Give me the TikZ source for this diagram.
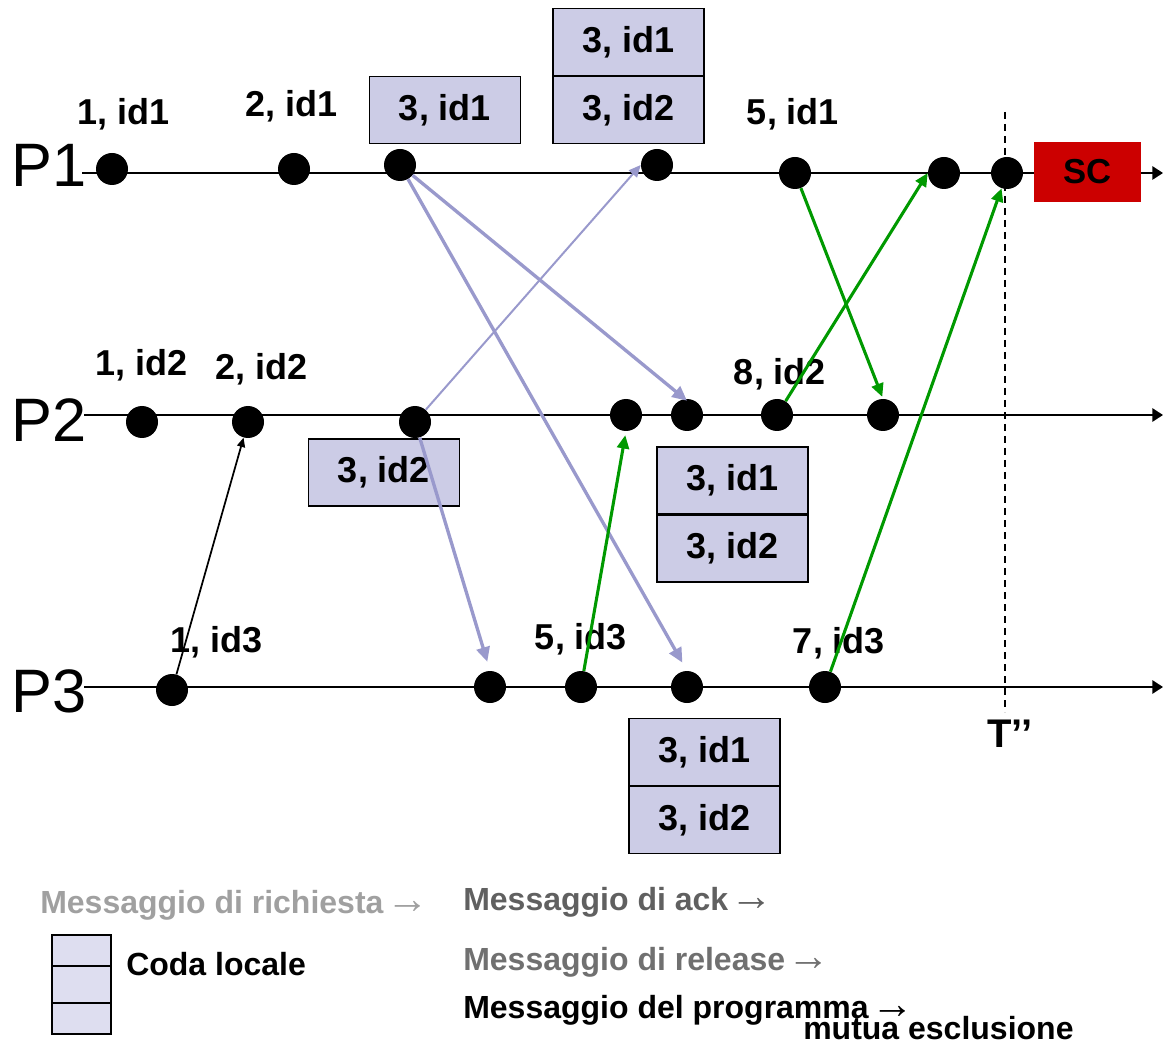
\documentclass[tikz,border=0pt]{standalone}
\usepackage{fontspec}
\setmainfont{Liberation Sans}
\usetikzlibrary{arrows.meta}
\definecolor{qfill}{RGB}{204,204,230}
\definecolor{legfill}{RGB}{222,222,240}
\definecolor{reqc}{RGB}{153,153,204}
\definecolor{ackg}{RGB}{0,153,0}
\definecolor{scred}{RGB}{204,0,0}
\definecolor{grayA}{RGB}{160,160,160}
\definecolor{grayB}{RGB}{96,96,96}
\definecolor{grayC}{RGB}{112,112,112}
\newcommand{\legarrow}{\hspace{2pt}{\fontsize{32}{32}\selectfont →}}
\begin{document}
\begin{tikzpicture}[x=0.75pt,y=-0.75pt,
 dot/.style={circle,fill=black,inner sep=0pt,minimum size=24pt},
 lbl/.style={font=\bfseries\fontsize{27}{30}\selectfont,inner sep=0pt,anchor=base},
 qbox/.style={draw=black,line width=1.2pt,fill=qfill,minimum width=113pt,minimum height=50pt,inner sep=0pt,font=\bfseries\fontsize{27}{30}\selectfont},
 proc/.style={line width=1.4pt,-{Triangle[length=8pt,width=10pt]}},
 req/.style={draw=reqc,line width=2.5pt,-{Triangle[length=11pt,width=10pt]}},
 reqthin/.style={draw=reqc,line width=1.5pt,-{Triangle[length=9pt,width=8pt]}},
 ackarrow/.style={draw=ackg,line width=2.3pt,-{Triangle[length=10pt,width=9pt]}},
 prog/.style={draw=black,line width=1.3pt,-{Triangle[length=7pt,width=6pt]}},
 plbl/.style={font=\fontsize{46}{50}\selectfont,inner sep=0pt,anchor=base west},
 leg/.style={font=\bfseries\fontsize{24}{26}\selectfont,inner sep=0pt,anchor=base west},
 legcell/.style={draw=black,line width=1.4pt,fill=legfill}
]
\useasboundingbox (0,0) rectangle (1163,1044);

% process labels
\node[plbl] (P1) at (11,187) {P1};
\node[plbl] (P2) at (11,442) {P2};
\node[plbl] (P3) at (11,712) {P3};

% process lines
\coordinate (l1s) at (82,173); \coordinate (l1e) at (1163,173);
\coordinate (l2s) at (84,415); \coordinate (l2e) at (1163,415);
\coordinate (l3s) at (84,687); \coordinate (l3e) at (1163,687);
\draw[proc] (l1s) -- (l1e);
\draw[proc] (l2s) -- (l2e);
\draw[proc] (l3s) -- (l3e);

% T'' dashed line
\coordinate (dt) at (1005,112); \coordinate (db) at (1005,712);
\draw[line width=1.1pt,dash pattern=on 5pt off 4pt] (dt) -- (db);
\node[lbl,font=\bfseries\fontsize{30}{32}\selectfont] (T) at (1010,747) {T’’};

% SC box
\node[fill=scred,minimum width=80pt,minimum height=45pt,inner sep=0pt,font=\bfseries\fontsize{26}{28}\selectfont] (sc) at (1087.5,172) {SC};

% queue boxes
\node[qbox] (q1) at (445,110) {3, id1};
\node[qbox] (q2a) at (628.5,42) {3, id1};
\node[qbox] (q2b) at (628.5,110) {3, id2};
\node[qbox] (q3) at (384,472.5) {3, id2};
\node[qbox] (q4a) at (732.5,480.5) {3, id1};
\node[qbox] (q4b) at (732.5,548.5) {3, id2};
\node[qbox] (q5a) at (704.5,752) {3, id1};
\node[qbox] (q5b) at (704.5,820) {3, id2};

% labels
\node[lbl] (t1) at (124,125) {1, id1};
\node[lbl] (t2) at (292,117) {2, id1};
\node[lbl] (t3) at (793,125) {5, id1};
\node[lbl] (t4) at (142,376) {1, id2};
\node[lbl] (t5) at (262,380) {2, id2};
\node[lbl] (t6) at (780,385) {8, id2};
\node[lbl] (t7) at (217,652) {1, id3};
\node[lbl] (t8) at (581,649) {5, id3};
\node[lbl] (t9) at (839,653) {7, id3};

% dots
\node[dot] (p1a) at (112,169) {};
\node[dot] (p1b) at (294,169) {};
\node[dot] (p1c) at (400,165) {};
\node[dot] (p1d) at (657,165) {};
\node[dot] (p1e) at (795,173) {};
\node[dot] (p1f) at (944,173) {};
\node[dot] (p1g) at (1007,173) {};
\node[dot] (p2a) at (142,422) {};
\node[dot] (p2b) at (248,422) {};
\node[dot] (p2c) at (415,422) {};
\node[dot] (p2d) at (626,415) {};
\node[dot] (p2e) at (687,415) {};
\node[dot] (p2f) at (777,415) {};
\node[dot] (p2g) at (883,415) {};
\node[dot] (p3a) at (172,690) {};
\node[dot] (p3b) at (490,687) {};
\node[dot] (p3c) at (581,687) {};
\node[dot] (p3d) at (687,687) {};
\node[dot] (p3e) at (825,687) {};

% program message
\draw[prog] (p3a) -- (p2b);

% request messages
\draw[req] (p1c) -- ([yshift=-1.5pt]p2e.north);
\draw[req,shorten >=7pt] (p1c) -- (p3d.north);
\draw[reqthin] (p2c) -- (p1d.west);
\draw[req,shorten >=7pt] (p2c) -- (p3b.north);

% ack / release messages
\draw[ackarrow,shorten >=1.5pt] (p1e) -- (p2g.north);
\draw[ackarrow] (p2f) -- (p1f.west);
\draw[ackarrow,shorten >=3pt] (p3c) -- (p2d.south);
\draw[ackarrow] (p3e) -- (p1g);

% legend
\node[leg,text=grayA] (lr) at (40,913) {Messaggio di richiesta\legarrow};
\node[leg,text=grayB] (la) at (463,910) {Messaggio di ack\legarrow};
\node[leg,text=grayC] (lrel) at (463,970) {Messaggio di release\legarrow};
\node[leg] (lp) at (463,1018) {Messaggio del programma\legarrow};
\node[leg] (lm) at (803,1039) {mutua esclusione};
\path[legcell] (52,935) rectangle (111,966);
\path[legcell] (52,966) rectangle (111,1003);
\path[legcell] (52,1003) rectangle (111,1034);
\node[leg] (lc) at (126,975) {Coda locale};
\end{tikzpicture}
\end{document}
